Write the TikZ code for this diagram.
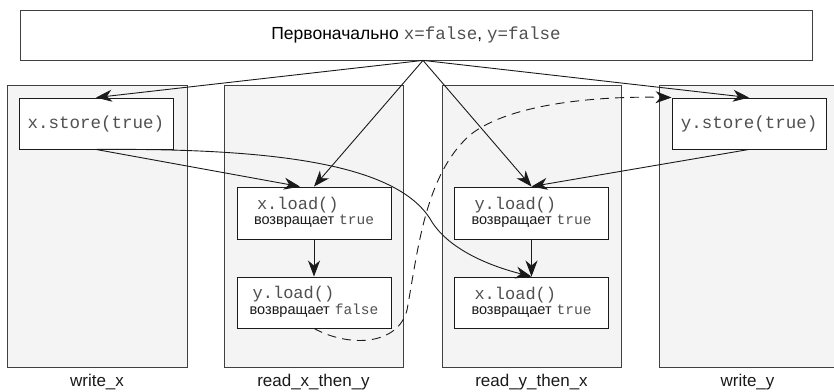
\documentclass[tikz,border=0pt]{standalone}
\usepackage{fontspec}
\setmainfont{Liberation Sans}
\setmonofont{Liberation Mono}
\usetikzlibrary{arrows.meta,calc}
\definecolor{colfill}{HTML}{F4F4F4}
\definecolor{edge}{HTML}{404040}
\definecolor{ink}{HTML}{1A1A1A}
\definecolor{code}{HTML}{505050}
\newcommand{\opline}[2]{\begin{tabular}{@{}l@{}}\hspace{3pt}{\fontsize{17}{18}\selectfont\ttfamily\color{code}#1}\\[2pt]{\fontsize{14.5}{18}\selectfont\color{ink}возвращает}\hspace{5pt}{\fontsize{14.5}{18}\selectfont\ttfamily\color{code}#2}\end{tabular}}
\begin{document}
\begin{tikzpicture}[x=1pt,y=-1pt,
  column/.style={draw=edge, fill=colfill, line width=0.8pt, minimum height=282pt, inner sep=0pt},
  opbox/.style={draw=ink, fill=white, line width=0.9pt, minimum width=154pt, inner sep=0pt},
  caption/.style={font=\fontsize{17}{19}\selectfont, text=ink},
  conn/.style={draw=ink, line width=0.9pt, -{Stealth[length=16pt,width=12pt,inset=5pt]}},
  dconn/.style={conn, dash pattern=on 9pt off 6pt},
  bigcode/.style={font=\fontsize{17.5}{20}\selectfont\ttfamily, text=code},
]
\useasboundingbox (0,0) rectangle (834,391);

% columns
\node[column, minimum width=180pt] (cwx) at (97,226) {};
\node[column, minimum width=179pt] (crx) at (313.5,226) {};
\node[column, minimum width=179pt] (cry) at (531.5,226) {};
\node[column, minimum width=177pt] (cwy) at (747.5,226) {};

\node[caption] (lwx) at (97,382) {write\_x};
\node[caption] (lrx) at (313.5,382) {read\_x\_then\_y};
\node[caption] (lry) at (531.5,382) {read\_y\_then\_x};
\node[caption] (lwy) at (747.5,382) {write\_y};

% top box
\node[draw=edge, fill=white, line width=0.8pt, minimum width=792pt, minimum height=50pt, inner sep=0pt] (top) at (416,35)
  {{\fontsize{17.5}{19}\selectfont Первоначально}\hspace{5pt}{\fontsize{17.5}{19}\selectfont\ttfamily\color{code}x=false}{\fontsize{17}{19}\selectfont ,}\hspace{5pt}{\fontsize{17.5}{19}\selectfont\ttfamily\color{code}y=false}};
\coordinate (apex) at ($(top.south)+(7,0)$);

% operation boxes
\node[opbox, minimum height=51pt, bigcode] (xs) at (96,123.5) {x.store(true)};
\node[opbox, minimum height=51pt, bigcode] (ys) at (749,123.5) {y.store(true)};

\node[opbox, minimum height=52pt] (xl) at (314,213) {\opline{x.load()}{true}};
\node[opbox, minimum height=51pt] (yl) at (314,302.5) {\opline{y.load()}{false}};
\node[opbox, minimum height=52pt] (yl2) at (531.5,213) {\opline{y.load()}{true}};
\node[opbox, minimum height=51pt] (xl2) at (531.5,302.5) {\opline{x.load()}{true}};

% connectors from top
\draw[conn] (apex) -- (xs.north);
\draw[conn] (apex) -- (xl.north);
\draw[conn] (apex) -- (yl2.north);
\draw[conn] (apex) -- (ys.north);

% within threads
\draw[conn] (xl.south) -- (yl.north);
\draw[conn] (yl2.south) -- (xl2.north);

% cross-thread
\draw[conn] (xs.south) -- ($(xl.north)+(-14,0)$);
\draw[conn] (ys.south) -- (yl2.north);
\draw[conn] (xs.south) .. controls (280,148) and (400,165) .. (432,222)
   .. controls (450,250) and (490,266) .. (xl2.north);

% dashed
\draw[dconn] (yl.south) .. controls (350,348) and (398,345) .. (407,310)
   .. controls (418,250) and (425,175) .. (470,135)
   .. controls (510,103) and (600,96) .. (ys.north west);
\end{tikzpicture}
\end{document}
